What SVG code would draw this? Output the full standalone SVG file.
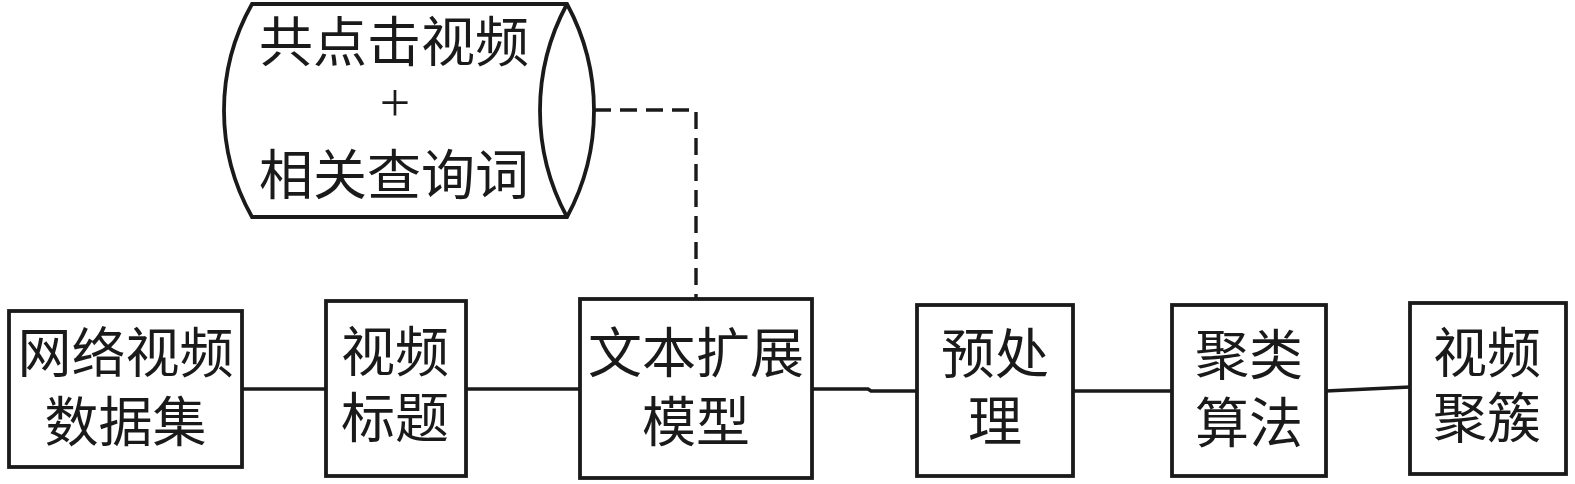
<svg xmlns="http://www.w3.org/2000/svg" width="1575" height="484" viewBox="0 0 1575 484">
<style>
.box{fill:#fff;stroke:#1a1a1a;stroke-width:3.8}
.ln{fill:none;stroke:#1a1a1a;stroke-width:3.4}
.dash{fill:none;stroke:#1a1a1a;stroke-width:3.4;stroke-dasharray:17 9}
.t{font-family:"Liberation Serif","Noto Sans CJK SC","Noto Sans CJK JP",serif;font-size:54px;fill:#1a1a1a;text-anchor:middle}
</style>
<rect width="1575" height="484" fill="#fff"/>
<g id="connectors">
<path class="dash" d="M594,110 H696 V299"/>
<path class="ln" d="M242,389 H326"/>
<path class="ln" d="M466,389 H580"/>
<path class="ln" d="M812,389 H868 L871,391 H917"/>
<path class="ln" d="M1073,391 H1172"/>
<path class="ln" d="M1326,391 L1410,387"/>
</g>
<g id="cylinder">
<path class="box" d="M252,4 H567 A223.5,223.5 0 0 1 567,217 H252 A216.5,216.5 0 0 1 252,4 Z"/>
<path class="ln" style="stroke-width:3.8" d="M567,217 A223.5,223.5 0 0 1 567,4"/>
<text class="t"><tspan x="394" y="62">共点击视频</tspan><tspan x="395" y="121">+</tspan><tspan x="394" y="194.5">相关查询词</tspan></text>
</g>
<g id="n1">
<rect class="box" x="9" y="311" width="233" height="156"/>
<text class="t"><tspan x="125.5" y="373">网络视频</tspan><tspan x="125.5" y="441.5">数据集</tspan></text>
</g>
<g id="n2">
<rect class="box" x="326" y="301" width="140" height="175"/>
<text class="t"><tspan x="395" y="372">视频</tspan><tspan x="395" y="438">标题</tspan></text>
</g>
<g id="n3">
<rect class="box" x="580" y="299" width="232" height="179"/>
<text class="t"><tspan x="696" y="373">文本扩展</tspan><tspan x="696" y="441.5">模型</tspan></text>
</g>
<g id="n4">
<rect class="box" x="917" y="305" width="156" height="171"/>
<text class="t"><tspan x="995" y="373.5">预处</tspan><tspan x="995" y="440.5">理</tspan></text>
</g>
<g id="n5">
<rect class="box" x="1172" y="305" width="154" height="171"/>
<text class="t"><tspan x="1249" y="374.5">聚类</tspan><tspan x="1249" y="442.5">算法</tspan></text>
</g>
<g id="n6">
<rect class="box" x="1410" y="303" width="156" height="171"/>
<text class="t"><tspan x="1487" y="372.5">视频</tspan><tspan x="1487" y="437.5">聚簇</tspan></text>
</g>
</svg>
